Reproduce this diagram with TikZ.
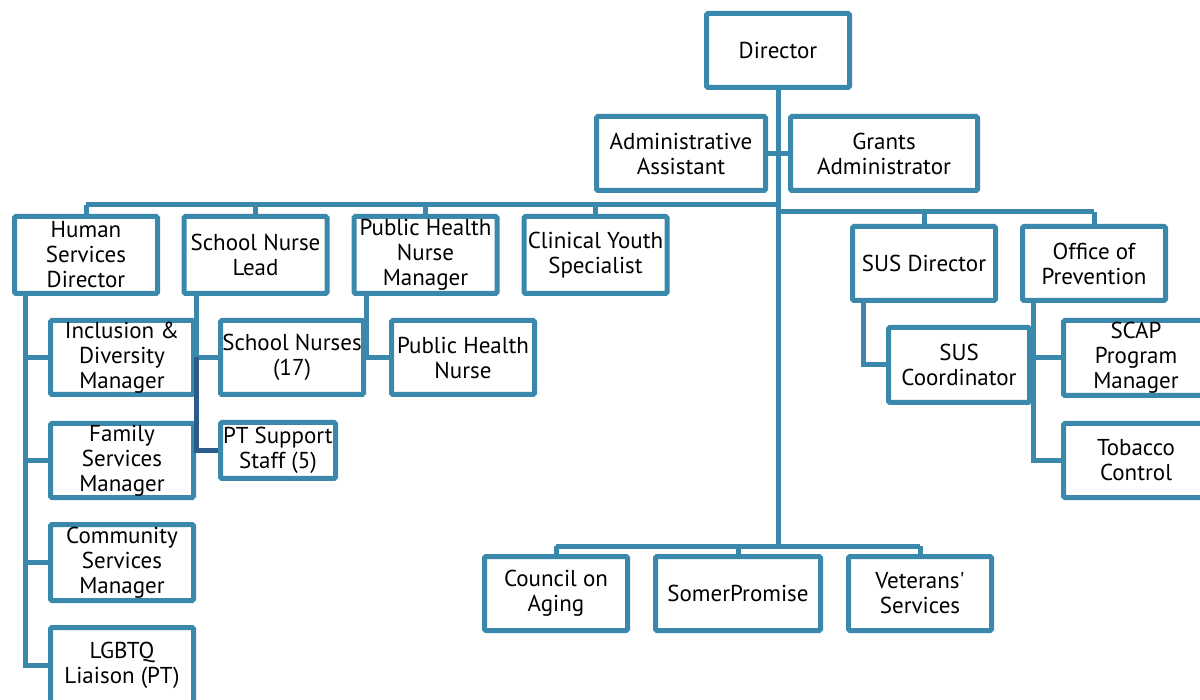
\documentclass[tikz,border=0pt]{standalone}
\usepackage{fontspec}
\setmainfont{PT Sans}[Ligatures=TeXOff]
\definecolor{tealc}{RGB}{58,137,173}
\definecolor{navyc}{RGB}{44,92,140}
\tikzset{
  orgbox/.style={draw=tealc, line width=5pt, fill=white, rounded corners=1.5pt,
    inner sep=0pt, align=center, font=\fontsize{23}{25}\selectfont,
    minimum width=143pt, minimum height=74pt},
  conn/.style={draw=tealc, line width=5pt},
  navyconn/.style={draw=navyc, line width=5pt}
}
\begin{document}
\begin{tikzpicture}[x=1pt,y=-1pt]
\useasboundingbox (0,0) rectangle (1200,700);
\fill[white] (0,0) rectangle (1200,700);
% junction coordinates
\coordinate (jL) at (778,205);
\coordinate (jR) at (778,212);
\coordinate (jB) at (778,546);
% trunk and buses (drawn first)
\node[orgbox] (dir) at (778,50.5) {Director};
\draw[conn] (dir.south) -- (jB);
\draw[conn] (86,205) coordinate (hsdtop) -- (jL);
\draw[conn] (jR) -- (1094,212) coordinate (ooptop);
\draw[conn] (556,546) coordinate (coatop) -- (920,546) coordinate (vettop);
% boxes
\node[orgbox, minimum width=169pt] (aa) at (681,153.5) {Administrative\\Assistant};
\node[orgbox, minimum width=187pt] (ga) at (884,153.5) {Grants\\Administrator};
\node[orgbox, minimum height=77pt] (hsd) at (86,255) {Human\\Services\\Director};
\node[orgbox, minimum height=77pt] (snl) at (255.5,255) {School Nurse\\Lead};
\node[orgbox, minimum height=77pt] (phnm) at (425.5,255) {Public Health\\Nurse\\Manager};
\node[orgbox, minimum height=77pt] (cys) at (595.5,255) {Clinical Youth\\Specialist};
\node[orgbox] (susd) at (924,263.5) {SUS Director};
\node[orgbox] (oop) at (1094,263.5) {Office of\\Prevention};
\node[orgbox] (idm) at (122,357.5) {Inclusion \&\\Diversity\\Manager};
\node[orgbox] (fsm) at (122,460.5) {Family\\Services\\Manager};
\node[orgbox, minimum height=76pt] (csm) at (122,562.5) {Community\\Services\\Manager};
\node[orgbox, minimum height=75pt] (lgbtq) at (122,665) {LGBTQ\\Liaison (PT)};
\node[orgbox] (sn) at (292,357.5) {School Nurses\\(17)};
\node[orgbox, minimum width=115pt, minimum height=56pt] (pt) at (278,450.5) {PT Support\\Staff (5)};
\node[orgbox] (phn) at (463,357.5) {Public Health\\Nurse};
\node[orgbox, minimum width=141pt, minimum height=75pt] (susc) at (959,365) {SUS\\Coordinator};
\node[orgbox, minimum width=145pt, minimum height=75pt] (scap) at (1136,358) {SCAP\\Program\\Manager};
\node[orgbox, minimum width=145pt] (tc) at (1136,460.5) {Tobacco\\Control};
\node[orgbox] (coa) at (556,593.5) {Council on\\Aging};
\node[orgbox, minimum width=165pt] (sp) at (738,593.5) {SomerPromise};
\node[orgbox] (vet) at (920,593.5) {Veterans'\\Services};
% drops from buses
\draw[conn] (hsdtop) -- (hsd.north);
\draw[conn] (snl.north |- jL) -- (snl.north);
\draw[conn] (phnm.north |- jL) -- (phnm.north);
\draw[conn] (cys.north |- jL) -- (cys.north);
\draw[conn] (susd.north |- jR) -- (susd.north);
\draw[conn] (ooptop) -- (oop.north);
\draw[conn] (coatop) -- (coa.north);
\draw[conn] (sp.north |- jB) -- (sp.north);
\draw[conn] (vettop) -- (vet.north);
% assistants
\draw[conn] (aa.east) -- (aa.east -| dir.south);
\draw[conn] (ga.west) -- (ga.west -| dir.south);
% left column
\coordinate (hsdv) at ([xshift=13.5pt]hsd.south west);
\draw[conn] (hsdv) |- (lgbtq.west);
\draw[conn] (hsdv |- idm.west) -- (idm.west);
\draw[conn] (hsdv |- fsm.west) -- (fsm.west);
\draw[conn] (hsdv |- csm.west) -- (csm.west);
% school nurse lead
\coordinate (snlv) at ([xshift=14.5pt]snl.south west);
\draw[conn] (snlv) |- (sn.west);
\draw[navyconn] (snlv |- sn.west) |- (pt.west);
% public health nurse manager
\coordinate (phnmv) at ([xshift=14.5pt]phnm.south west);
\draw[conn] (phnmv) |- (phn.west);
% SUS director
\coordinate (susdv) at ([xshift=13.5pt]susd.south west);
\draw[conn] (susdv) |- (susc.west);
% office of prevention
\coordinate (oopv) at ([xshift=13.5pt]oop.south west);
\draw[conn] (oopv) |- (tc.west);
\draw[conn] (oopv |- scap.west) -- (scap.west);
\end{tikzpicture}
\end{document}
